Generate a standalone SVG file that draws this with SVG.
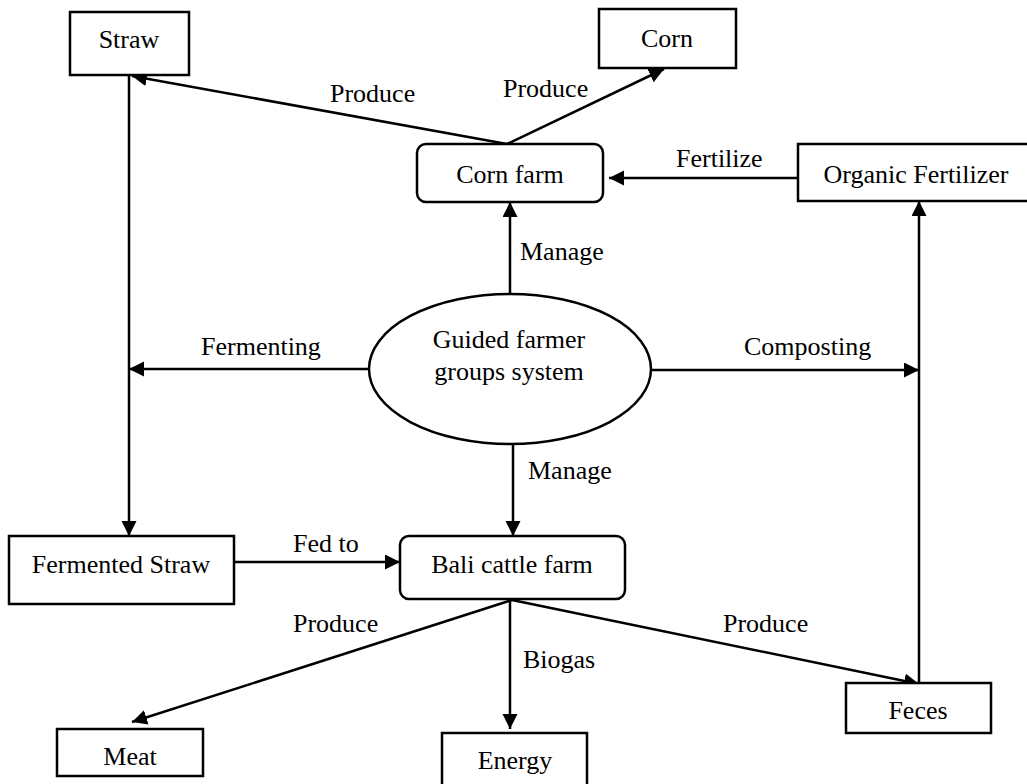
<svg xmlns="http://www.w3.org/2000/svg" width="1027" height="784" viewBox="0 0 1027 784">
<style>
.box{fill:#fff;stroke:#000;stroke-width:2.5}
.t{font-family:"Liberation Serif","Times New Roman",serif;font-size:26px;fill:#000}
.c{text-anchor:middle}
.ln{fill:none;stroke:#000;stroke-width:2.5;marker-end:url(#ah)}
.pl{fill:none;stroke:#000;stroke-width:2.5}
</style>
<defs>
<marker id="ah" markerUnits="userSpaceOnUse" markerWidth="16" markerHeight="16" refX="15" refY="7.5" orient="auto">
<path d="M0,0 L15,7.5 L0,15 z" fill="#000"/>
</marker>
</defs>
<rect width="1027" height="784" fill="#fff"/>
<g id="connectors">
<line class="ln" x1="507" y1="144" x2="132" y2="76"/>
<line class="ln" x1="507" y1="144" x2="664" y2="69"/>
<line class="ln" x1="798" y1="178" x2="609" y2="178"/>
<line class="ln" x1="510" y1="295" x2="510" y2="202"/>
<line class="ln" x1="369" y1="369" x2="129" y2="369"/>
<line class="ln" x1="650" y1="370" x2="919" y2="370"/>
<line class="ln" x1="129" y1="75" x2="129" y2="536"/>
<line class="ln" x1="513" y1="443" x2="513" y2="536"/>
<line class="ln" x1="234" y1="562" x2="400" y2="562"/>
<line class="ln" x1="512" y1="600" x2="132" y2="722"/>
<line class="ln" x1="510" y1="600" x2="510" y2="729"/>
<line class="ln" x1="512" y1="600" x2="919" y2="684"/>
<line class="ln" x1="919" y1="683" x2="919" y2="201"/>
<text class="t" x="330" y="102">Produce</text>
<text class="t" x="503" y="97">Produce</text>
<text class="t" x="676" y="167">Fertilize</text>
<text class="t" x="520" y="260">Manage</text>
<text class="t" x="201" y="355">Fermenting</text>
<text class="t" x="744" y="355">Composting</text>
<text class="t" x="528" y="479">Manage</text>
<text class="t" x="293" y="552">Fed to</text>
<text class="t" x="293" y="632">Produce</text>
<text class="t" x="523" y="668">Biogas</text>
<text class="t" x="723" y="632">Produce</text>
</g>
<g id="straw"><rect class="box" x="70" y="12" width="119" height="63"/><text class="t c" x="129" y="48">Straw</text></g>
<g id="corn"><rect class="box" x="599" y="9" width="137" height="59"/><text class="t c" x="667" y="47">Corn</text></g>
<g id="cornfarm"><rect class="box" x="417" y="144" width="186" height="58" rx="9"/><text class="t c" x="510" y="183">Corn farm</text></g>
<g id="organic"><rect class="box" x="798" y="144" width="240" height="57"/><text class="t c" x="916" y="183">Organic Fertilizer</text></g>
<g id="guided"><ellipse class="box" cx="510" cy="369" rx="141" ry="75"/><text class="t c" x="509" y="348">Guided farmer</text><text class="t c" x="509" y="380">groups system</text></g>
<g id="fermented"><rect class="box" x="9" y="536" width="225" height="68"/><text class="t c" x="121" y="573">Fermented Straw</text></g>
<g id="bali"><rect class="box" x="400" y="536" width="225" height="63" rx="9"/><text class="t c" x="512" y="573">Bali cattle farm</text></g>
<g id="meat"><rect class="box" x="57" y="729" width="146" height="47"/><text class="t c" x="130" y="765">Meat</text></g>
<g id="energy"><rect class="box" x="442" y="733" width="145" height="60"/><text class="t c" x="515" y="769">Energy</text></g>
<g id="feces"><rect class="box" x="846" y="683" width="145" height="50"/><text class="t c" x="918" y="719">Feces</text></g>
</svg>
